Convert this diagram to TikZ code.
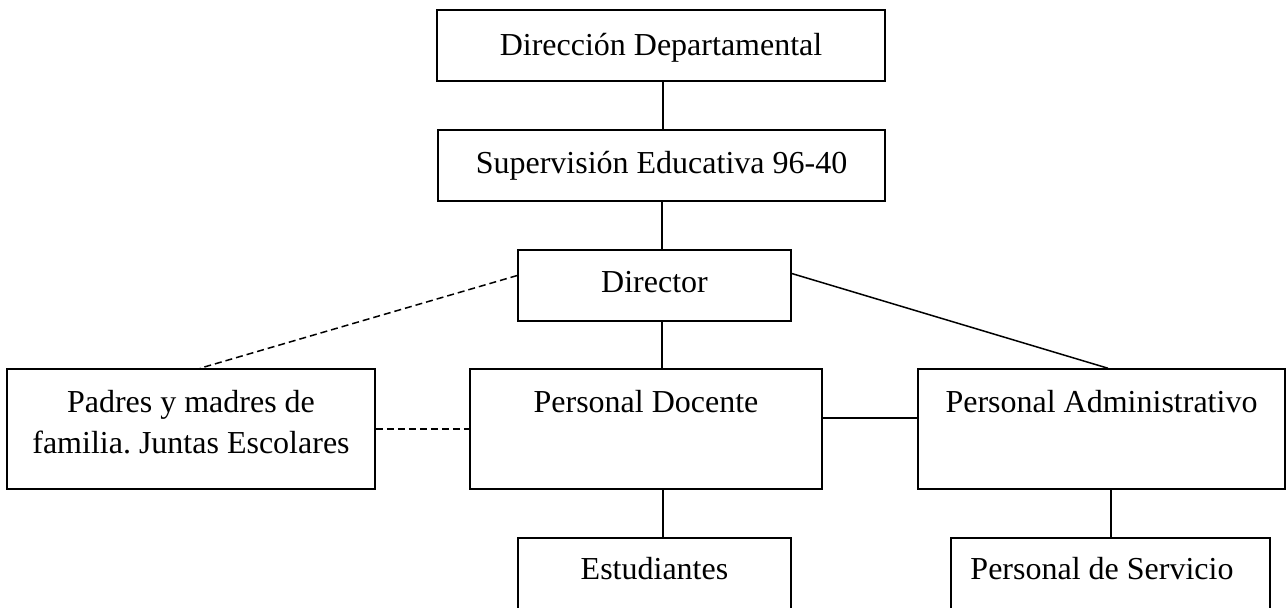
\documentclass[tikz,border=0pt]{standalone}
\usepackage{fontspec}
\setmainfont{Liberation Serif}
\usetikzlibrary{calc}
\frenchspacing
\begin{document}
\begin{tikzpicture}[x=1pt,y=-1pt,
  box/.style={draw, rectangle, inner sep=0pt, line width=1.5pt},
  lbl/.style={anchor=base, inner sep=0pt, font=\fontsize{32}{41}\selectfont, align=center},
  conn/.style={line width=1.5pt},
  dconn/.style={line width=1.5pt, dash pattern=on 7pt off 4pt}]
\useasboundingbox (0,0) rectangle (1286,608);
\clip (0,0) rectangle (1286,608);
% boxes
\node[box, minimum width=448pt, minimum height=71pt] (dd) at (661,45.5) {};
\node[box, minimum width=447pt, minimum height=71pt] (sup) at (661.5,165.5) {};
\node[box, minimum width=273pt, minimum height=71pt] (dir) at (654.5,285.5) {};
\node[box, minimum width=368pt, minimum height=120pt] (pad) at (191,429) {};
\node[box, minimum width=352pt, minimum height=120pt] (doc) at (646,429) {};
\node[box, minimum width=367pt, minimum height=120pt] (adm) at (1101.5,429) {};
\node[box, minimum width=273pt, minimum height=92pt] (est) at (654.5,584) {};
\node[box, minimum width=319pt, minimum height=92pt] (serv) at (1110.5,584) {};
% labels
\node[lbl] (tdd) at (661,55) {Dirección Departamental};
\node[lbl] (tsup) at (661.5,173) {Supervisión Educativa 96-40};
\node[lbl] (tdir) at (654.5,292) {Director};
\node[lbl] (tpad) at (191,453) {Padres y madres de\\familia. Juntas Escolares};
\node[lbl] (tdoc) at (646,412) {Personal Docente};
\node[lbl] (tadm) at (1101.5,412) {Personal Administrativo};
\node[lbl] (test) at (654.5,579) {Estudiantes};
\node[lbl] (tserv) at (1102,579) {Personal de Servicio};
% connectors
\draw[conn] (dd.south -| 663,0) -- (sup.north -| 663,0);
\draw[conn] (sup.south -| 662,0) -- (dir.north -| 662,0);
\draw[conn] (dir.south -| 662,0) -- (doc.north -| 662,0);
\draw[conn] (doc.south -| 663,0) -- (est.north -| 663,0);
\draw[conn] (adm.south -| 1111,0) -- (serv.north -| 1111,0);
\draw[conn] ($(dir.east)+(0,-12)$) -- ($(adm.north)+(6.5,0)$);
\draw[dconn] ($(dir.west)+(0,-10)$) -- ($(pad.north)+(9,0)$);
\draw[dconn] (pad.east) -- (doc.west);
\draw[conn] ($(doc.east)+(0,-11)$) -- ($(adm.west)+(0,-11)$);
\end{tikzpicture}
\end{document}
